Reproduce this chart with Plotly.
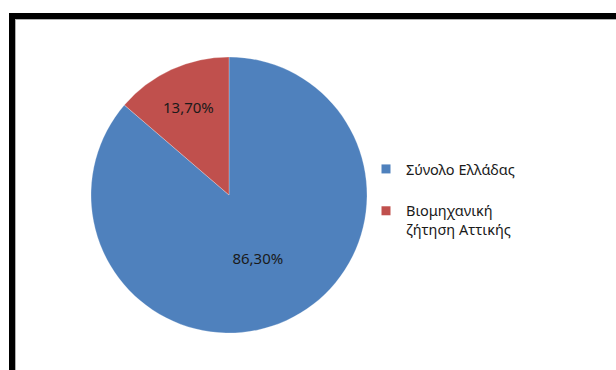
import plotly.graph_objects as go

labels = ["Σύνολο Ελλάδας", "Βιομηχανική<br>ζήτηση Αττικής"]
values = [86.3, 13.7]
colors = ["#4F81BD", "#C0504D"]

W, H = 616, 370
FONT = "Noto Sans, Open Sans, sans-serif"

def px(x):
    return x / W

def py(y):
    return 1 - y / H

cx, cy, r = 229, 195, 138

fig = go.Figure()
fig.add_trace(go.Pie(
    labels=labels, values=values, sort=False, direction="clockwise", rotation=0,
    marker=dict(colors=colors, line=dict(color="rgba(255,255,255,0.5)", width=0.5)),
    texttemplate="%{percent:.2%}", textposition="inside", insidetextorientation="horizontal",
    textfont=dict(family=FONT, size=15, color="#1a1a1a"),
    domain=dict(x=[px(cx - r), px(cx + r)], y=[py(cy + r), py(cy - r)]),
    showlegend=False, hoverinfo="label+percent",
))
for i, (lab, col) in enumerate(zip(labels, colors)):
    fig.add_trace(go.Scatter(
        x=[None], y=[None], mode="markers", name=lab, legendgroup=f"g{i}",
        marker=dict(symbol="square", size=9, color=col), showlegend=True,
    ))

shapes = [
    dict(type="rect", xref="paper", yref="paper", x0=px(9), x1=1.01, y0=py(19), y1=py(13),
         fillcolor="black", line=dict(width=0), layer="above"),
    dict(type="rect", xref="paper", yref="paper", x0=px(9), x1=px(15), y0=-0.01, y1=py(13),
         fillcolor="black", line=dict(width=0), layer="above"),
    dict(type="line", xref="paper", yref="paper", x0=px(15), x1=1.01, y0=py(19.5), y1=py(19.5),
         line=dict(color="#b0b0b0", width=1)),
    dict(type="line", xref="paper", yref="paper", x0=px(15.5), x1=px(15.5), y0=-0.01, y1=py(19),
         line=dict(color="#b0b0b0", width=1)),
]

fig.update_layout(
    width=W, height=H, margin=dict(l=0, r=0, t=0, b=0),
    paper_bgcolor="white", plot_bgcolor="white",
    separators=",.",
    font=dict(family=FONT, size=14, color="#1a1a1a"),
    xaxis=dict(visible=False), yaxis=dict(visible=False),
    legend=dict(x=px(366), y=py(153), xanchor="left", yanchor="top",
                tracegroupgap=20, valign="top", bgcolor="rgba(0,0,0,0)",
                font=dict(family=FONT, size=14.5, color="#1a1a1a")),
    shapes=shapes,
)

fig.write_html("out.html")
